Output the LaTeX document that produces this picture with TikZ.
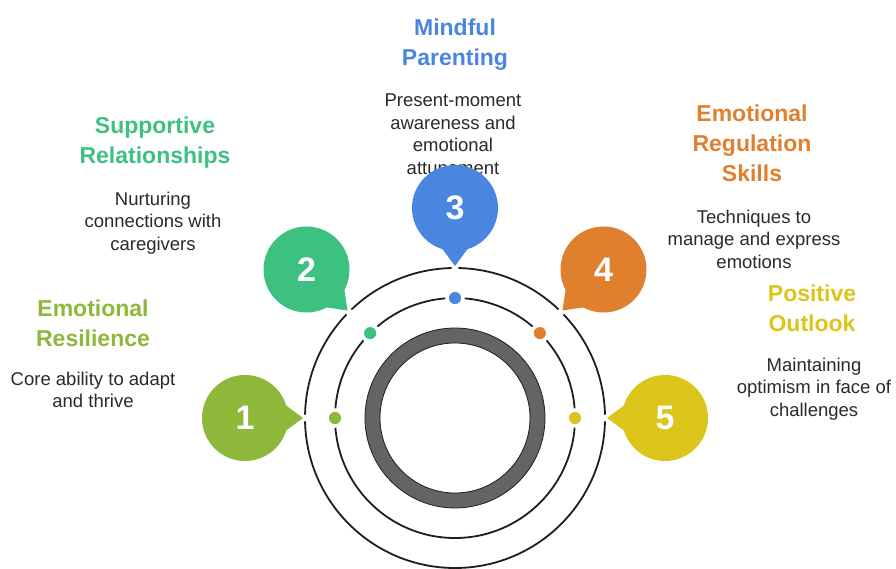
\documentclass[tikz,border=0pt]{standalone}
\usepackage{fontspec}
\setmainfont{Liberation Sans}
\usetikzlibrary{calc}
\definecolor{cA}{HTML}{8DB83A}
\definecolor{cB}{HTML}{3DC180}
\definecolor{cC}{HTML}{4A86E0}
\definecolor{cD}{HTML}{E0802F}
\definecolor{cE}{HTML}{DCC51A}
\definecolor{txt}{HTML}{2A2A2A}
\definecolor{ringgray}{HTML}{646464}
\definecolor{linec}{HTML}{1E1E1E}
\begin{document}
\begin{tikzpicture}[x=1pt,y=1pt,
 title/.style={font=\fontsize{23}{30}\selectfont\bfseries, align=center, inner sep=0pt},
 desc/.style={font=\fontsize{18.5}{22.5}\selectfont, align=center, text=txt, inner sep=0pt},
 bubble/.style={circle, minimum size=86pt, inner sep=0pt, text=white, font=\fontsize{34}{34}\selectfont\bfseries},
 dotn/.style={circle, minimum size=16pt, inner sep=0pt, draw=white, line width=3.5pt},
 orbit/.style={draw=linec, line width=1.8pt}]
\useasboundingbox (0,0) rectangle (896,568);
\fill[white] (0,0) rectangle (896,568);
\coordinate (C) at (455,150);
% titles and descriptions
\node[title, text=cB] (t2) at (155,425) {Supportive\\Relationships};
\node[desc] (d2) at (153,345) {Nurturing\\connections with\\caregivers};
\node[title, text=cA] (t1) at (93,245) {Emotional\\Resilience};
\node[desc] (d1) at (93,178) {Core ability to adapt\\and thrive};
\node[title, text=cC] (t3) at (455,523) {Mindful\\Parenting};
\node[desc] (d3) at (453,434) {Present-moment\\awareness and\\emotional\\attunement};
\node[title, text=cD] (t4) at (752,425) {Emotional\\Regulation\\Skills};
\node[desc] (d4) at (754,329) {Techniques to\\manage and express\\emotions};
\node[title, text=cE] (t5) at (812,259.5) {Positive\\Outlook};
\node[desc] (d5) at (814,179) {Maintaining\\optimism in face of\\challenges};
% orbits
\draw[orbit] (C) circle (150);
\draw[orbit] (C) circle (120);
\fill[ringgray, even odd rule] (C) circle (90) (C) circle (75);
\draw[linec, line width=0.8pt] (C) circle (90) (C) circle (75);
% callouts
\foreach \i/\a/\c in {1/180/cA,2/135/cB,3/90/cC,4/45/cD,5/0/cE} {
  \node[dotn, fill=\c] (dot\i) at ($(C)+(\a:120)$) {};
  \fill[white] ($(C)+(\a:150)$) circle (3.5);
  \coordinate (tip\i) at ($(C)+(\a:152)$);
  \node[bubble, fill=\c] (b\i) at ($(C)+(\a:210)$) {\i};
  \fill[\c] ($(b\i)+(\a+157:40)$) -- (tip\i) -- ($(b\i)+(\a+203:40)$) -- cycle;
}
\end{tikzpicture}
\end{document}
